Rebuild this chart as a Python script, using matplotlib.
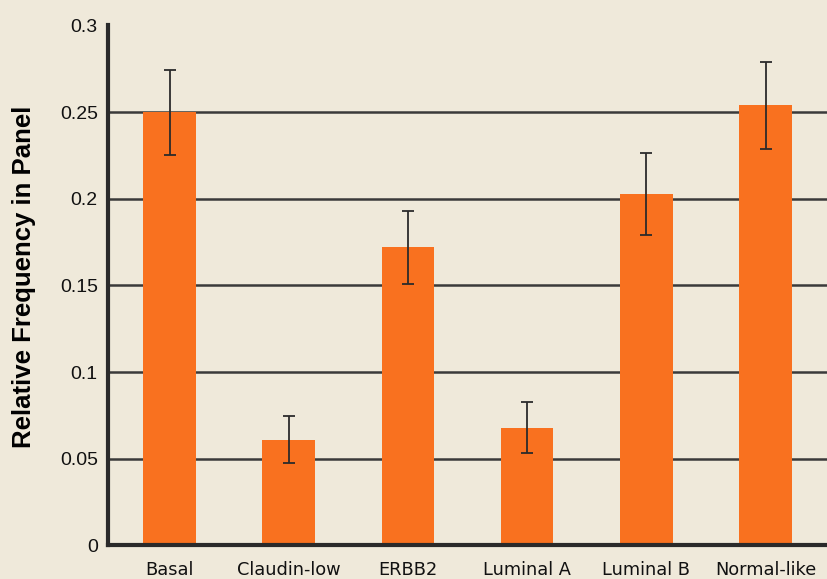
import matplotlib
matplotlib.use("Agg")
import matplotlib.pyplot as plt

# Subtype frequencies with standard errors
subtypes = ["Basal", "Claudin-low", "ERBB2", "Luminal A", "Luminal B", "Normal-like"]
frequency = [0.250, 0.061, 0.172, 0.068, 0.203, 0.254]
std_error = [0.0245, 0.0135, 0.021, 0.0145, 0.0237, 0.025]

bg_color = "#EFE9DA"
bar_color = "#F9711F"


def plot_frequencies() -> None:
    fig = plt.figure(figsize=(8.27, 5.79), dpi=100, facecolor=bg_color)
    ax = fig.add_axes([0.13, 0.058, 0.875, 0.898])
    ax.set_facecolor(bg_color)

    x = range(len(subtypes))
    ax.bar(x, frequency, width=0.44, color=bar_color, zorder=2)
    ax.errorbar(x, frequency, yerr=std_error, fmt="none", ecolor="#2b2b2b",
                elinewidth=1.3, capsize=4, capthick=1.3, zorder=3)

    ax.set_ylim(0, 0.3)
    ax.set_xlim(-0.52, 5.55)
    ax.set_yticks([0, 0.05, 0.1, 0.15, 0.2, 0.25, 0.3])
    ax.set_yticklabels(["0", "0.05", "0.1", "0.15", "0.2", "0.25", "0.3"])
    ax.set_xticks(list(x))
    ax.set_xticklabels(subtypes)
    ax.tick_params(axis="both", length=0, colors="#111111")
    ax.tick_params(axis="y", pad=7)
    ax.tick_params(axis="x", pad=11, labelsize=12.8)
    for lbl in ax.get_yticklabels():
        lbl.set_family("Liberation Sans")
        lbl.set_fontsize(14)

    # horizontal gridlines behind the bars
    for y in [0.05, 0.1, 0.15, 0.2, 0.25]:
        ax.axhline(y, color="#3a3a3a", lw=1.8, zorder=1)

    for side in ["top", "right"]:
        ax.spines[side].set_visible(False)
    ax.spines["left"].set_linewidth(3)
    ax.spines["bottom"].set_linewidth(3)
    ax.spines["left"].set_color("#2a2a2a")
    ax.spines["bottom"].set_color("#2a2a2a")
    ax.spines["left"].set_bounds(0, 0.3)

    ax.set_ylabel("Relative Frequency in Panel", fontsize=18.5, fontweight="bold",
                  family="Liberation Sans")
    ax.yaxis.set_label_coords(-0.099, 0.517)

    fig.savefig("out.png", facecolor=bg_color)


if __name__ == "__main__":
    plot_frequencies()
